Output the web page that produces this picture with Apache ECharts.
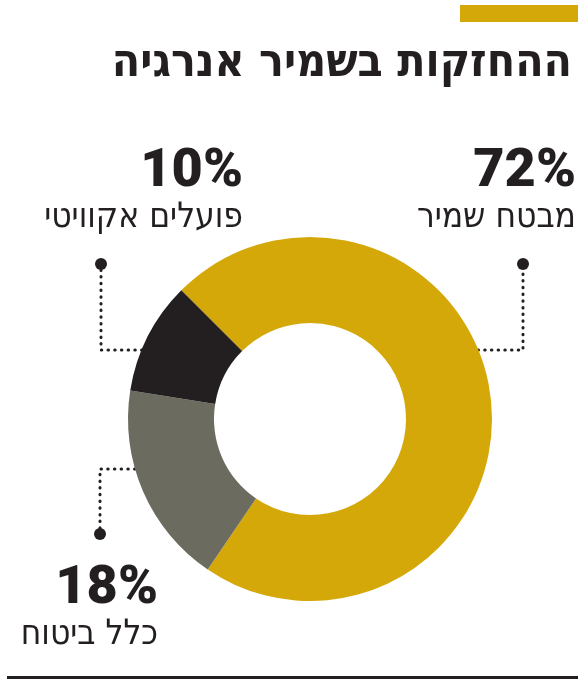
<!DOCTYPE html>
<html>
<head>
<meta charset="utf-8">
<style>
  html, body { margin: 0; padding: 0; background: #fff; }
  #chart { width: 587px; height: 683px; }
</style>
<script src="https://cdn.jsdelivr.net/npm/echarts@6/dist/echarts.min.js"></script>
</head>
<body>
<div id="chart"></div>
<script>
// data
const names = ['מבטח שמיר', 'כלל ביטוח', 'פועלים אקוויטי'];
const values = [72, 18, 10];
const colors = ['#D4A809', '#6B6B5F', '#231F20'];

// label placement (right edge / top of each label) and leader lines
const labelPos = [[576, 145], [158, 562], [243, 145]];
const leaderLines = [
  [[478, 350], [523, 350], [523, 264]],
  [[135, 469], [100, 469], [100, 534]],
  [[142, 350], [101, 350], [101, 264]]
];

const chart = echarts.init(document.getElementById('chart'));

chart.setOption({
  animation: false,
  title: {
    text: 'ההחזקות בשמיר אנרגיה',
    right: 10,
    top: 36,
    textStyle: {
      fontFamily: 'DejaVu Sans Condensed',
      fontWeight: 'bold',
      fontSize: 46,
      color: '#231F20'
    }
  },
  graphic: [
    {type: 'rect', shape: {x: 460, y: 5, width: 118, height: 17}, style: {fill: '#D4A809'}},
    {type: 'rect', shape: {x: 7, y: 676, width: 571, height: 3}, style: {fill: '#231F20'}},
    {type: 'circle', shape: {cx: 523, cy: 264, r: 6}, style: {fill: '#231F20'}},
    {type: 'circle', shape: {cx: 101, cy: 264, r: 6}, style: {fill: '#231F20'}},
    {type: 'circle', shape: {cx: 100, cy: 534, r: 6}, style: {fill: '#231F20'}}
  ],
  series: [
    {
      type: 'pie',
      center: [310, 419],
      radius: [96, 182],
      startAngle: 135,
      clockwise: true,
      silent: true,
      color: colors,
      label: {
        show: true,
        position: 'outside',
        width: 260,
        overflow: 'none',
        align: 'right',
        formatter: function (p) {
          return '{p|' + p.value + '%}\n{n|' + p.name + '}';
        },
        rich: {
          p: {
            fontFamily: 'Roboto',
            fontWeight: 900,
            fontSize: 54,
            lineHeight: 54,
            color: '#231F20',
            align: 'right'
          },
          n: {
            fontFamily: 'DejaVu Sans Condensed',
            fontSize: 35,
            lineHeight: 38,
            color: '#231F20',
            align: 'right'
          }
        }
      },
      labelLine: {
        show: true,
        lineStyle: {
          color: '#231F20',
          width: 3,
          type: [0.5, 6.2],
          cap: 'round'
        }
      },
      labelLayout: function (params) {
        const i = params.dataIndex;
        return {
          x: labelPos[i][0],
          y: labelPos[i][1],
          align: 'right',
          verticalAlign: 'top',
          labelLinePoints: leaderLines[i]
        };
      },
      data: names.map(function (n, i) {
        return {name: n, value: values[i]};
      })
    }
  ]
});
</script>
</body>
</html>
